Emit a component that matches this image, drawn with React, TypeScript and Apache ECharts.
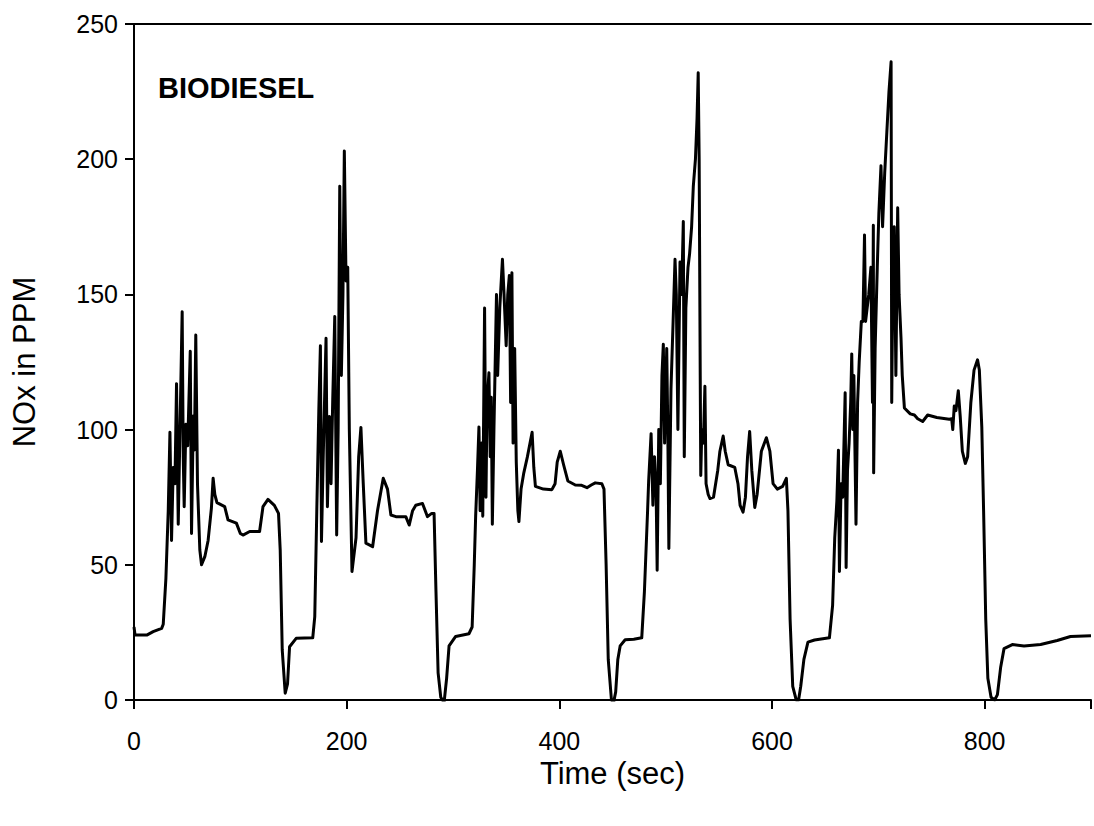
import React, { useEffect, useRef } from "react";
import * as echarts from "echarts";

const FONT = "'Liberation Sans', Arial, Helvetica, sans-serif";

const xTicks = [0, 200, 400, 600, 800];
const yTicks = [0, 50, 100, 150, 200, 250];

// Time (sec)
const timeSec = [
  0, 1, 2.5, 12, 18, 26, 27.5, 30, 32.2, 33.8, 35.3, 36.9, 38.5, 40, 41.6, 43.1, 45.3, 46.3, 47.2, 48.8, 50.5, 52.9, 54.1, 55.8, 56.8, 58.1, 59.7, 61.9, 63.5, 66.6, 69.7, 72.8, 74.4, 76, 78, 85.3, 88.4, 96.3, 100, 102.5, 108.8, 118.1, 121.3, 126, 132, 135.9, 137.5, 139.4, 142.2, 144.4, 146.3, 152.5, 168.1, 170, 171.9,
  173.8, 175.3, 176.3, 178.1, 180.6, 181.9, 183.8, 185.3, 186.9, 188.8, 190.6, 192, 193.5, 195, 196.5, 197.8, 199.4, 201, 202.5, 205, 208.8, 211.3, 213.4, 215.6, 218.1, 224.4, 229, 234.4, 238.4, 241.6, 246.3, 255.6, 258.8, 262, 265, 271.3, 276, 280, 282.2, 284, 286, 288.5, 291.6, 294, 296.3, 302.5, 315, 318, 320, 321.3,
  323, 324.4, 325.5, 327, 328, 329.7, 331, 332, 333.8, 335, 336, 337, 338.5, 340.9, 342, 344, 346.5, 348, 350, 351.5, 353, 354.2, 355.4, 356.5, 358, 359.5, 361, 362, 364, 366.6, 370, 374.4, 376, 377.5, 385, 393, 396, 398, 400.9, 404, 408, 415, 421, 426, 430, 433.8, 440, 442, 444, 446, 449, 451, 453, 455, 457.2, 461.9, 470, 477.5, 480, 483, 484,
  486.3, 488, 489.5, 491, 492, 493.5, 495, 496.5, 497.8, 499, 501, 502, 503, 505, 507, 508.8, 510, 511.5, 513.5, 515, 516.6, 517.5, 519, 521, 522.5, 524.4, 526, 528, 529.5, 530.6, 531.5, 532.5, 533, 534, 535.5, 536.9, 538, 540, 541.7, 545, 549, 551, 554.1, 556, 558.8, 565, 568, 570, 572.8, 575, 577, 579, 581, 583.8, 586, 590, 594.7, 598, 601, 605, 610, 613.5, 615, 617, 619.5, 622.8, 625, 627, 630, 633.8, 640, 654, 657, 659, 661,
  662.5, 663.4, 665, 666.5, 668.8, 669.7, 671, 672.5, 674, 675, 676, 677, 679, 680.5, 682, 684, 685.5, 687, 688, 689.5, 691, 693, 694.5, 695.3, 695.6, 697, 699, 700.5, 702.5, 704, 706, 708, 710, 712, 712.6, 713.5, 715, 716.5, 718.2, 719.5, 721.3, 722.5, 724.5, 730, 733.9, 737, 741.7, 746.4, 755, 766.7, 769, 770, 771.4, 773, 775.2, 777, 779, 781.8, 784, 787, 790, 793.3, 795, 797.3, 799, 801, 803, 806, 809.4, 812, 815, 818.2, 826, 837, 852.6, 868.2, 880.7, 900,
];

// NOx in PPM
const noxPpm = [
  27, 24, 24, 24, 25.3, 26.5, 28, 45, 70, 99, 59, 86, 80, 117, 65, 97, 143.6, 90, 71.5, 102, 94, 129, 61.6, 105, 92.5, 135, 80, 55.5, 50, 53, 59, 71, 82, 76, 73, 71.5, 66.6, 65.4, 61.6, 61, 62.3, 62.3, 71.5, 74.2, 72, 69, 55.5, 18.5, 2.5, 6, 19.7, 22.8, 23, 30.8, 70,
  107, 131, 58.6, 92.5, 133.8, 71.5, 104.8, 80, 111, 141.8, 61, 100, 190, 120, 150, 203, 155, 160, 100, 47.5, 60, 90, 100.8, 80, 58, 56.7, 70, 82, 78, 68.4, 67.8, 67.8, 64.7, 70, 72, 72.7, 67.8, 69, 69, 40, 10, 1, -1, 8, 20, 23.5, 24.5, 27, 50, 68,
  85, 101, 70, 95, 68, 145, 75, 110, 121, 90, 112, 65, 100, 150, 120, 145, 163, 150, 131, 150, 157, 110, 158, 95, 130, 88, 70, 66, 78, 84, 90, 99, 86, 79, 78, 77.8, 80, 88, 92, 87, 81, 79.5, 79.4, 78.5, 79.5, 80.3, 80, 78, 50, 15, 0, -1, 3, 15, 20, 22.3, 22.5, 23, 40, 70, 81,
  98.5, 72, 90, 78, 48, 100, 80, 120, 131.6, 95, 130, 100, 56, 115, 140, 163, 150, 100, 162, 150, 177, 90, 145, 160, 165, 175, 190, 200, 215, 232, 200, 120, 83, 100, 95, 116, 80, 76, 74.5, 75, 85, 92, 97.6, 92, 87, 86, 80, 72, 69.5, 75, 90, 99.3, 85, 71.2, 76, 92, 97, 92, 80, 78, 79, 82, 70, 30, 5, 0, 0, 5, 15, 21.4, 22.2, 23, 35, 60, 73.6,
  92.4, 47.5, 80, 75, 113.6, 49, 85, 95, 110, 128, 100, 120, 65, 110, 125, 140, 140, 172, 140, 145, 150, 160, 110, 175.6, 84, 130, 160, 180, 197.6, 175, 195, 210, 225, 236, 110, 150, 175, 120, 182, 150, 134, 120, 108, 105.8, 105.4, 104, 103, 105.4, 104.5, 103.8, 104, 100, 108.7, 107, 114.4, 105, 92, 87.5, 90, 110, 122, 125.8, 122, 101, 70, 30, 8, 1, 0, 2, 12, 19, 20.5, 20, 20.5, 22, 23.5, 23.8,
];

const seriesLabel = "BIODIESEL";

export default function App() {
  const ref = useRef<HTMLDivElement>(null);

  useEffect(() => {
    if (!ref.current) return;
    const chart = echarts.init(ref.current, null, { renderer: "svg" });
    const data = timeSec.map((t, i) => [t, noxPpm[i]]);
    chart.setOption({
      animation: false,
      backgroundColor: "#ffffff",
      grid: { left: 134, right: 0, top: 24, bottom: 126, containLabel: false },
      xAxis: [
        {
          type: "value",
          min: 0,
          max: 900,
          interval: 200,
          position: "bottom",
          name: "Time (sec)",
          nameLocation: "middle",
          nameGap: 58,
          nameTextStyle: { fontFamily: FONT, fontSize: 31, color: "#000" },
          axisLine: { show: true, onZero: false, lineStyle: { color: "#000", width: 2 } },
          axisTick: { show: true, inside: false, length: 9, lineStyle: { color: "#000", width: 2 } },
          axisLabel: {
            fontFamily: FONT,
            fontSize: 25,
            color: "#000",
            margin: 28,
            formatter: (v: number) => (xTicks.includes(v) ? String(v) : ""),
          },
          splitLine: { show: false },
        },
        {
          type: "value",
          min: 0,
          max: 900,
          position: "top",
          axisLine: { show: true, onZero: false, lineStyle: { color: "#000", width: 2 } },
          axisTick: { show: false },
          axisLabel: { show: false },
          splitLine: { show: false },
        },
      ],
      yAxis: {
        type: "value",
        min: 0,
        max: 250,
        interval: 50,
        name: "NOx in PPM",
        nameLocation: "middle",
        nameGap: 94,
        nameRotate: 90,
        nameTextStyle: { fontFamily: FONT, fontSize: 31, color: "#000" },
        axisLine: { show: true, onZero: false, lineStyle: { color: "#000", width: 2 } },
        axisTick: { show: true, inside: false, length: 9, lineStyle: { color: "#000", width: 2 } },
        axisLabel: {
          fontFamily: FONT,
          fontSize: 25,
          color: "#000",
          margin: 16,
          formatter: (v: number) => (yTicks.includes(v) ? String(v) : ""),
        },
        splitLine: { show: false },
      },
      graphic: [
        {
          type: "text",
          left: 158,
          top: 73,
          style: {
            text: seriesLabel,
            fontFamily: FONT,
            fontSize: 29,
            fontWeight: "bold",
            fill: "#000",
          },
        },
      ],
      series: [
        {
          type: "line",
          xAxisIndex: 0,
          data,
          showSymbol: false,
          symbol: "none",
          lineStyle: { color: "#000", width: 3, join: "round" },
          smooth: false,
        },
      ],
    });
    return () => chart.dispose();
  }, []);

  return (
    <div
      ref={ref}
      style={{ position: "fixed", left: 0, top: 0, width: 1094, height: 826, background: "#fff" }}
    />
  );
}
